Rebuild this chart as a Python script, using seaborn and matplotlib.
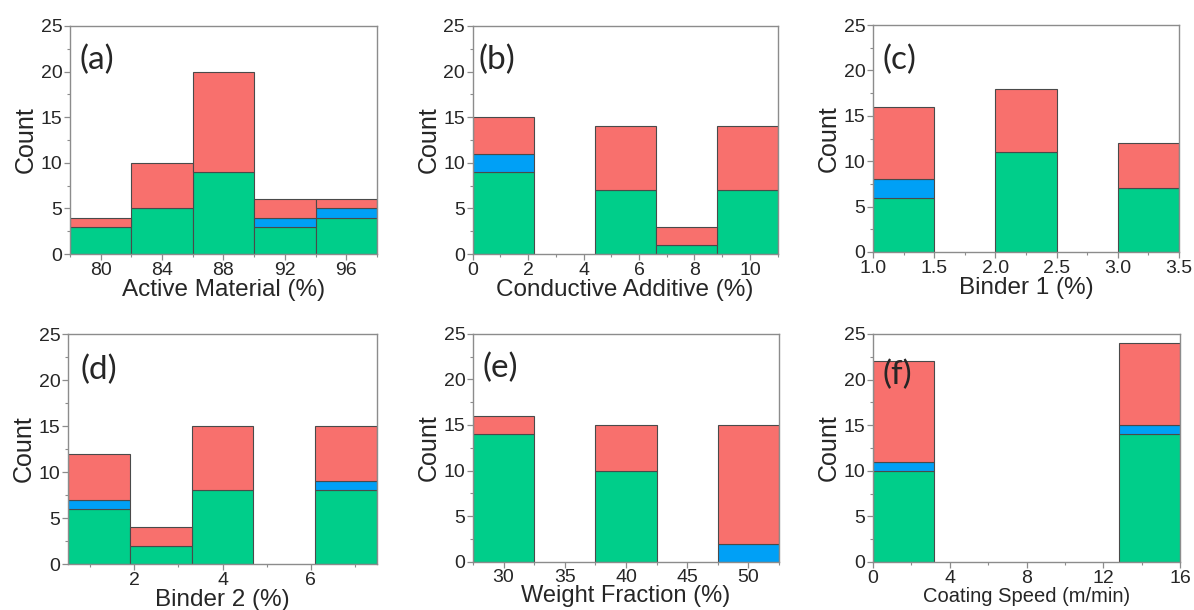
import numpy as np
import pandas as pd
import matplotlib
matplotlib.use("Agg")
import matplotlib.pyplot as plt
import seaborn as sns
from matplotlib.ticker import MultipleLocator, FormatStrFormatter

# ---------------- data (counts per bin, stacked: green bottom, blue middle, red top)
# (a) Active Material (%)
a_edges = [78, 82, 86, 90, 94, 98]
a_green = [3, 5, 9, 3, 4]
a_blue = [0, 0, 0, 1, 1]
a_red = [1, 5, 11, 2, 1]

# (b) Conductive Additive (%)
b_edges = [0, 2.2, 4.4, 6.6, 8.8, 11]
b_green = [9, 0, 7, 1, 7]
b_blue = [2, 0, 0, 0, 0]
b_red = [4, 0, 7, 2, 7]

# (c) Binder 1 (%)
c_edges = [1.0, 1.5, 2.0, 2.5, 3.0, 3.5]
c_green = [6, 0, 11, 0, 7]
c_blue = [2, 0, 0, 0, 0]
c_red = [8, 0, 7, 0, 5]

# (d) Binder 2 (%)
d_edges = [0.5, 1.9, 3.3, 4.7, 6.1, 7.5]
d_green = [6, 2, 8, 0, 8]
d_blue = [1, 0, 0, 0, 1]
d_red = [5, 2, 7, 0, 6]

# (e) Weight Fraction (%)
e_edges = [27.5, 32.5, 37.5, 42.5, 47.5, 52.5]
e_green = [14, 0, 10, 0, 0]
e_blue = [0, 0, 0, 0, 2]
e_red = [2, 0, 5, 0, 13]

# (f) Coating Speed (m/min)
f_edges = [0, 3.2, 6.4, 9.6, 12.8, 16]
f_green = [10, 0, 0, 0, 14]
f_blue = [1, 0, 0, 0, 1]
f_red = [11, 0, 0, 0, 9]

groups = ["Red", "Blue", "Green"]
palette = {"Red": "#F8706D", "Blue": "#00A0F6", "Green": "#00CE8A"}

panels = [
    ("(a)", "Active Material (%)", a_edges, a_green, a_blue, a_red),
    ("(b)", "Conductive Additive (%)", b_edges, b_green, b_blue, b_red),
    ("(c)", "Binder 1 (%)", c_edges, c_green, c_blue, c_red),
    ("(d)", "Binder 2 (%)", d_edges, d_green, d_blue, d_red),
    ("(e)", "Weight Fraction (%)", e_edges, e_green, e_blue, e_red),
    ("(f)", "Coating Speed (m/min)", f_edges, f_green, f_blue, f_red),
]

# ---------------- styling
sns.set_style("ticks")
plt.rcParams["font.family"] = ["Liberation Sans", "DejaVu Sans"]

fig = plt.figure(figsize=(11.94, 6.10), dpi=100)

positions = [
    [0.0586, 0.5836, 0.2571, 0.3738],
    [0.3959, 0.5836, 0.2554, 0.3738],
    [0.7312, 0.5869, 0.2563, 0.3720],
    [0.0570, 0.0754, 0.2588, 0.3770],
    [0.3961, 0.0790, 0.2563, 0.3738],
    [0.7312, 0.0787, 0.2571, 0.3738],
]

xticks = [
    (np.arange(80, 97, 4), 2, "%d"),
    (np.arange(0, 11, 2), 1, "%d"),
    (np.arange(1.0, 3.51, 0.5), 0.25, "%.1f"),
    (np.array([2, 4, 6]), 1, "%d"),
    (np.arange(30, 51, 5), 2.5, "%d"),
    (np.arange(0, 17, 4), 2, "%d"),
]

label_pos = [(0.03, 0.85), (0.02, 0.85), (0.03, 0.846),
             (0.04, 0.843), (0.03, 0.85), (0.03, 0.82)]
xlabel_pad = [0, 0, 0, 0, -1, 0]
xlabel_size = [17.5, 17.5, 17.5, 17.5, 17, 14.5]

spine_col = "#8c8c8c"

for i, (tag, xlabel, edges, g, b, r) in enumerate(panels):
    ax = fig.add_axes(positions[i])
    centers = [(edges[k] + edges[k + 1]) / 2 for k in range(len(edges) - 1)]
    rows = []
    for name, vals in (("Green", g), ("Blue", b), ("Red", r)):
        for c, v in zip(centers, vals):
            rows.append({"x": c, "group": name, "count": v})
    df = pd.DataFrame(rows)
    sns.histplot(data=df, x="x", weights="count", hue="group",
                 hue_order=groups, palette=palette, bins=edges,
                 multiple="stack", alpha=1.0, edgecolor="#4a4a4a",
                 linewidth=0.8, legend=False, ax=ax)
    for p in list(ax.patches):
        if p.get_height() == 0:
            p.remove()
    ax.set_xlim(edges[0], edges[-1])
    ax.set_ylim(0, 25)
    ax.yaxis.set_major_locator(MultipleLocator(5))
    ax.yaxis.set_minor_locator(MultipleLocator(2.5))
    ticks, minor, fmt = xticks[i]
    ax.set_xticks(ticks)
    ax.xaxis.set_minor_locator(MultipleLocator(minor))
    ax.xaxis.set_major_formatter(FormatStrFormatter(fmt))
    for s in ax.spines.values():
        s.set_color(spine_col)
        s.set_linewidth(1.0)
    ax.tick_params(which="major", direction="out", length=4, width=0.9,
                   color=spine_col, labelsize=14, pad=1.5)
    ax.tick_params(which="minor", direction="out", length=2.5, width=0.8,
                   color=spine_col)
    ax.set_ylabel("Count", fontsize=18, labelpad=2)
    ax.set_xlabel(xlabel, fontsize=xlabel_size[i], labelpad=xlabel_pad[i])
    ax.text(label_pos[i][0], label_pos[i][1], tag, transform=ax.transAxes,
            fontsize=24, ha="left", va="center",
            family=["Lato", "Liberation Sans", "DejaVu Sans"])

fig.savefig("out.png", dpi=100)
